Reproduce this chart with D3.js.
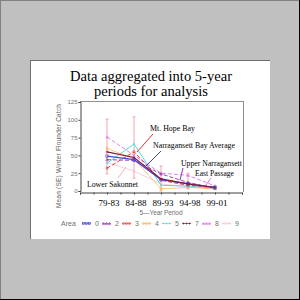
<!DOCTYPE html>
<html>
<head>
<meta charset="utf-8">
<script src="https://cdn.jsdelivr.net/npm/d3@7"></script>
<style>
  body { margin: 0; background: #c0c0c0; }
  svg { display: block; }
  .serif { font-family: "Times New Roman", Times, "Liberation Serif", "Nimbus Roman", serif; }
  .sans { font-family: Arial, Helvetica, "Liberation Sans", sans-serif; }
</style>
</head>
<body>
<div id="chart"></div>
<script>
const periods = ["79-83", "84-88", "89-93", "94-98", "99-01"];
const areas = ["0", "2", "3", "4", "5", "7", "8", "9"];
const area0 = [49, 44, 16, 10, 5];
const area2 = [44, 43, 24, 12, 4];
const area3 = [32, 55, 15, 8, 5];
const area4 = [60, 45, 3, 5, 3];
const area5 = [39, 66, 8, 7, 4];
const area7 = [55, 47, 17, 10, 5];
const area8 = [76, 50, 25, 22, 7];
const area9 = [40, 28, 10, 6, 3];
const errLow = [24, 18, 0, 3, 2];
const errHigh = [101, 104, 35, 25, 8];
const yTicks = [0, 25, 50, 75, 100, 125];

const seriesValues = [area0, area2, area3, area4, area5, area7, area8, area9];
const colors = ["#4848d8", "#9030b0", "#e03838", "#f8b048", "#48e0e0", "#801838", "#e070f0", "#ffb8c8"];
const dashes = [null, "4,2", "4,2", null, null, null, "4,2", null];
const widths = [1.2, 0.9, 1, 0.7, 1, 1.1, 0.9, 0.7];
const markers = ["square", "triangle", "circle", "circle", "plus", "plus", "triangle", "cross"];

const W = 300, H = 300;
const svg = d3.select("#chart").append("svg").attr("width", W).attr("height", H);

// shrink a text until it fits the width seen in the picture
function fitWidth(sel, w) {
  const node = sel.node();
  const len = node.getComputedTextLength();
  if (len > w) {
    const fs = parseFloat(sel.style("font-size"));
    sel.style("font-size", (fs * w / len).toFixed(2) + "px");
  }
}

// outer frame + slide
svg.append("rect").attr("x", 0).attr("y", 0).attr("width", W).attr("height", H).attr("fill", "#c0c0c0");
svg.append("line").attr("x1", 0).attr("y1", 0.5).attr("x2", W).attr("y2", 0.5).attr("stroke", "#808080");
svg.append("line").attr("x1", 0.5).attr("y1", 0).attr("x2", 0.5).attr("y2", H).attr("stroke", "#808080");
svg.append("line").attr("x1", 0).attr("y1", H - 0.5).attr("x2", W).attr("y2", H - 0.5).attr("stroke", "#000");
svg.append("line").attr("x1", W - 0.5).attr("y1", 0).attr("x2", W - 0.5).attr("y2", H).attr("stroke", "#000");

svg.append("rect").attr("x", 30).attr("y", 60).attr("width", 240).attr("height", 179).attr("fill", "#fff");
svg.append("line").attr("x1", 30).attr("y1", 60.5).attr("x2", 270).attr("y2", 60.5).attr("stroke", "#707070");
svg.append("line").attr("x1", 30.5).attr("y1", 60).attr("x2", 30.5).attr("y2", 239).attr("stroke", "#707070");

// title
const t1 = svg.append("text").attr("class", "serif").attr("text-anchor", "middle")
  .attr("x", 151).attr("y", 81).style("font-size", "17px").attr("fill", "#000").text("Data aggregated into 5-year");
fitWidth(t1, 162);
svg.append("text").attr("class", "serif").attr("text-anchor", "middle")
  .attr("x", 151).attr("y", 96).style("font-size", t1.style("font-size")).attr("fill", "#000").text("periods for analysis");

const x = d3.scaleLinear().domain([0, 6]).range([80, 242]);
const y = d3.scaleLinear().domain([0, 125]).range([191, 102]);

// plot frame
svg.append("line").attr("x1", 80).attr("y1", 101.5).attr("x2", 244).attr("y2", 101.5).attr("stroke", "#909090");
svg.append("line").attr("x1", 243.5).attr("y1", 101).attr("x2", 243.5).attr("y2", 192).attr("stroke", "#909090");

// y axis
const yAxis = svg.append("g").attr("transform", "translate(80.5,0)")
  .call(d3.axisLeft(y).tickValues(yTicks).tickSize(2).tickPadding(1));
yAxis.attr("font-family", null);
yAxis.select(".domain").attr("stroke", "#404040");
yAxis.selectAll("line").attr("stroke", "#404040");
yAxis.selectAll("text").attr("class", "sans").style("font-size", "6px").attr("fill", "#707070");

// x axis
const xAxis = svg.append("g").attr("transform", "translate(0,192.5)")
  .call(d3.axisBottom(x).tickValues(d3.range(0, 6.01, 0.5)).tickSize(2).tickFormat(""));
xAxis.select(".domain").attr("stroke", "#404040");
xAxis.selectAll("line").attr("stroke", "#404040");
svg.append("g").selectAll("text").data(periods).join("text").attr("class", "serif")
  .attr("x", (d, i) => x(i + 1) + 2).attr("y", 206).attr("text-anchor", "middle")
  .style("font-size", "9px").text(d => d);

svg.append("text").attr("class", "sans").attr("x", 161).attr("y", 214.5).attr("text-anchor", "middle")
  .style("font-size", "6.5px").attr("fill", "#707070")
  .attr("textLength", 43).attr("lengthAdjust", "spacing")
  .text("5\u2014Year  Period");

svg.append("text").attr("class", "sans").attr("transform", "translate(61,156) rotate(-90)").attr("text-anchor", "middle")
  .style("font-size", "6.5px").attr("fill", "#606060")
  .attr("textLength", 104).attr("lengthAdjust", "spacing")
  .text("Mean (SE) Winter Flounder Catch");

// error bars
const eb = svg.append("g").attr("stroke", "#f09090").attr("stroke-width", 0.8);
periods.forEach((p, i) => {
  eb.append("line").attr("x1", x(i + 1)).attr("x2", x(i + 1)).attr("y1", y(errLow[i])).attr("y2", y(errHigh[i]));
  eb.append("line").attr("x1", x(i + 1) - 1.5).attr("x2", x(i + 1) + 1.5).attr("y1", y(errHigh[i])).attr("y2", y(errHigh[i]));
  eb.append("line").attr("x1", x(i + 1) - 1.5).attr("x2", x(i + 1) + 1.5).attr("y1", y(errLow[i])).attr("y2", y(errLow[i]));
});

function drawMarker(g, type, cx, cy, color, s) {
  if (type === "square") g.append("rect").attr("x", cx - s).attr("y", cy - s).attr("width", 2 * s).attr("height", 2 * s).attr("fill", "none").attr("stroke", color).attr("stroke-width", 0.6);
  else if (type === "circle") g.append("circle").attr("cx", cx).attr("cy", cy).attr("r", s).attr("fill", "none").attr("stroke", color).attr("stroke-width", 0.6);
  else if (type === "triangle") g.append("path").attr("d", `M${cx},${cy - s}L${cx + s},${cy + s}L${cx - s},${cy + s}Z`).attr("fill", "none").attr("stroke", color).attr("stroke-width", 0.6);
  else if (type === "plus") g.append("path").attr("d", `M${cx - s},${cy}H${cx + s}M${cx},${cy - s}V${cy + s}`).attr("stroke", color).attr("stroke-width", 0.6);
  else g.append("path").attr("d", `M${cx - s},${cy - s}L${cx + s},${cy + s}M${cx - s},${cy + s}L${cx + s},${cy - s}`).attr("stroke", color).attr("stroke-width", 0.6);
}

const line = d3.line().x((d, i) => x(i + 1)).y(d => y(d));
const order = [7, 3, 4, 6, 1, 2, 0, 5];
order.forEach(k => {
  const g = svg.append("g");
  g.append("path").attr("d", line(seriesValues[k])).attr("fill", "none")
    .attr("stroke", colors[k]).attr("stroke-width", widths[k]).attr("stroke-dasharray", dashes[k]);
  seriesValues[k].forEach((v, i) => drawMarker(g, markers[k], x(i + 1), y(v), colors[k], 1.2));
});

// annotations
const notes = [
  { text: "Mt. Hope Bay", tx: 150, ty: 131, w: 45, color: "#e03030", l: [153, 134, 137, 152] },
  { text: "Narragansett Bay Average", tx: 153, ty: 148, w: 82, color: "#4040d0", l: [161, 151, 146, 166] },
  { text: "Upper Narragansett", tx: 181, ty: 166, w: 61, color: "#9030b0", l: [183, 168, 180, 180] },
  { text: "East Passage", tx: 195, ty: 176, w: 39, color: "#e070f0", l: [211, 178, 206, 185] },
  { text: "Lower Sakonnet", tx: 87, ty: 187, w: 51, color: "#ffb0b0", l: [118, 178, 126, 167] }
];
notes.forEach(n => {
  svg.append("line").attr("x1", n.l[0]).attr("y1", n.l[1]).attr("x2", n.l[2]).attr("y2", n.l[3])
    .attr("stroke", n.color).attr("stroke-width", 1);
  const t = svg.append("text").attr("class", "serif").attr("x", n.tx).attr("y", n.ty)
    .style("font-size", "8.5px").text(n.text);
  fitWidth(t, n.w);
});

// legend
const lg = svg.append("g").attr("class", "sans").style("font-size", "7px").attr("fill", "#707070");
lg.append("text").attr("x", 61).attr("y", 226).text("Area");
areas.forEach((a, i) => {
  const lx = 95 + 20 * i;
  const k = i;
  lg.append("line").attr("x1", lx - 13).attr("x2", lx - 4).attr("y1", 223.5).attr("y2", 223.5)
    .attr("stroke", colors[k]).attr("stroke-width", 0.6);
  [lx - 11.5, lx - 8.5, lx - 5.5].forEach(mx => drawMarker(lg, markers[k], mx, 223.5, colors[k], 1.1));
  lg.append("text").attr("x", lx).attr("y", 226).text(a);
});
</script>
</body>
</html>
